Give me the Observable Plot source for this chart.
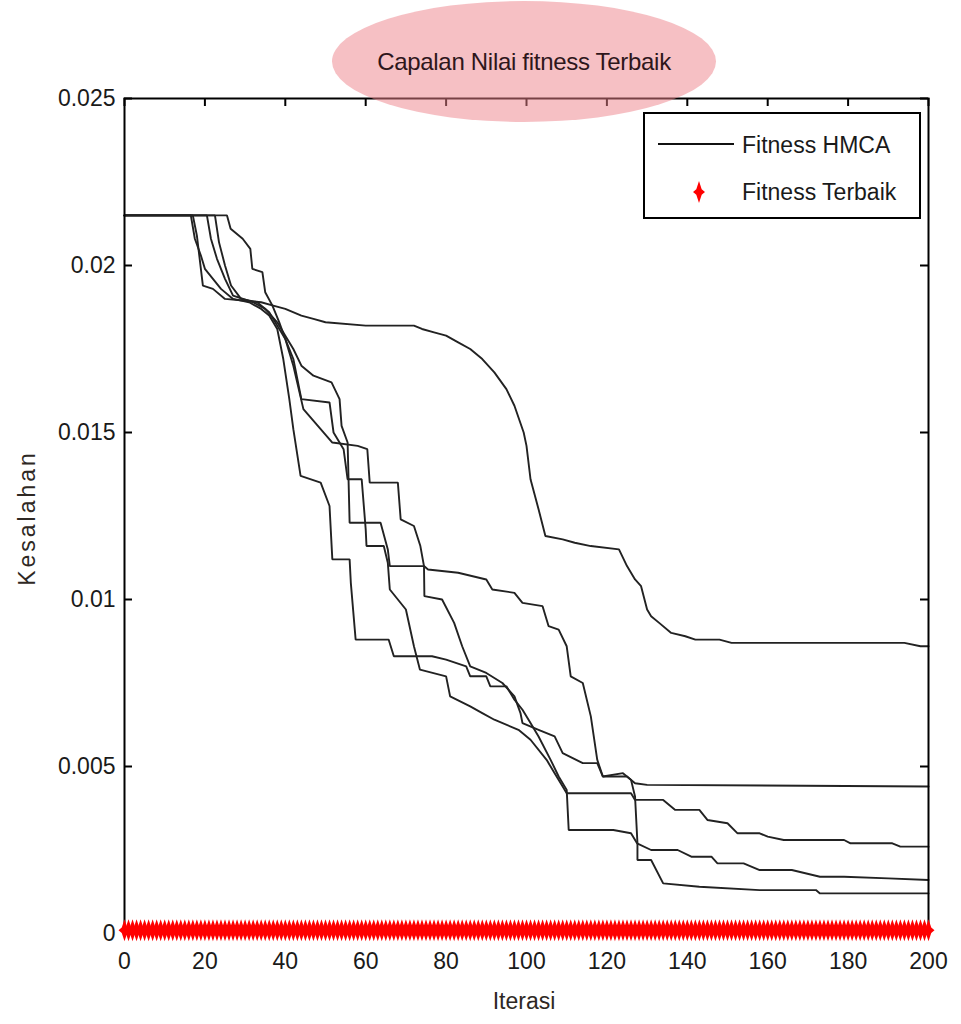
<!DOCTYPE html>
<html>
<head>
<meta charset="utf-8">
<script src="https://cdn.jsdelivr.net/npm/d3@7"></script>
<script src="https://cdn.jsdelivr.net/npm/@observablehq/plot@0.6"></script>
<style>
  html, body { margin: 0; padding: 0; background: #fff; }
  #wrap { position: relative; width: 961px; height: 1024px; font-family: "Liberation Sans", Arial, sans-serif; }
  #title {
    position: absolute; left: 332px; top: 1px; width: 384px; height: 121px;
    border-radius: 50%; background: rgba(238,130,138,0.5);
    display: flex; align-items: center; justify-content: center;
    font-size: 24px; color: #2e161b; z-index: 3; letter-spacing: -0.3px;
  }
  #legend {
    position: absolute; left: 643px; top: 112px; width: 278px; height: 107px;
    box-sizing: border-box; border: 2px solid #000; background: #fff; z-index: 2;
    font-size: 23px; color: #1a1a1a;
  }
  .lg-text { position: absolute; left: 97px; line-height: 1; transform: translateY(-50%); white-space: nowrap; }
  .axis-label { position: absolute; font-size: 23px; color: #2e2824; white-space: nowrap; z-index: 2; }
</style>
</head>
<body>
<div id="wrap">
  <div id="chart"></div>
  <div id="title">Capalan Nilai fitness Terbaik</div>
  <div id="legend">
    <div style="position:absolute;left:13px;top:29px;width:76px;height:2px;background:#111;"></div>
    <div class="lg-text" style="top:31px;">Fitness HMCA</div>
    <svg style="position:absolute;left:42px;top:65px;" width="24" height="26" viewBox="-12 -13 24 26">
      <path d="M0,-11L2.7,-2.7L6,0L2.7,2.7L0,11L-2.7,2.7L-6,0L-2.7,-2.7Z" fill="#ff0000"/>
    </svg>
    <div class="lg-text" style="top:78px;">Fitness Terbaik</div>
  </div>
  <div class="axis-label" id="xlabel" style="left:524px;top:1001px;transform:translate(-50%,-50%);">Iterasi</div>
  <div class="axis-label" id="ylabel" style="left:27px;top:518px;transform:translate(-50%,-50%) rotate(-90deg);letter-spacing:3px;">Kesalahan</div>
</div>
<script>
// ---- axis ticks ----
const xTicks = [0, 20, 40, 60, 80, 100, 120, 140, 160, 180, 200];
const xTickLabels = ["0", "20", "40", "60", "80", "100", "120", "140", "160", "180", "200"];
const yTicks = [0, 0.005, 0.01, 0.015, 0.02, 0.025];
const yTickLabels = ["0", "0.005", "0.01", "0.015", "0.02", "0.025"];

// ---- HMCA fitness runs: [iterasi, kesalahan] ----
const runA = [[0,0.0215],[17,0.0215],[18,0.0209],[19.5,0.0194],[22,0.0193],[25,0.0190],[34,0.0189],[37,0.0188],[40,0.0187],[44,0.0185],[47,0.0184],[50,0.0183],[60,0.0182],[72,0.0182],[74,0.0181],[77,0.0180],[80,0.0179],[83,0.0177],[86,0.0175],[89,0.0172],[92,0.0168],[95,0.0163],[97,0.0158],[99.3,0.0150],[100,0.0146],[101,0.0136],[103,0.0127],[104.7,0.0119],[109,0.0118],[112,0.0117],[116,0.0116],[123,0.0115],[125,0.0110],[127,0.0106],[128.5,0.0104],[130,0.0097],[131,0.0095],[133,0.0093],[136,0.0090],[139.5,0.0089],[142,0.0088],[148,0.0088],[151,0.0087],[194,0.0087],[198,0.0086],[200,0.0086]];
const runB = [[0,0.0215],[16.5,0.0215],[17.5,0.0208],[19,0.0203],[20,0.0199],[22,0.0196],[24,0.0193],[27,0.0190],[31,0.0189],[34,0.0187],[36,0.0185],[38,0.0181],[39.5,0.0172],[41,0.0160],[42,0.0151],[43.8,0.0137],[48.8,0.0135],[51,0.0128],[51.7,0.0112],[56,0.0112],[56.3,0.0105],[57.5,0.0088],[65.7,0.0088],[67,0.0083],[76.5,0.0083],[80,0.0082],[85,0.0080],[86,0.0077],[90,0.0077],[91,0.0074],[95,0.0074],[97,0.0070],[99,0.0067],[101,0.0063],[103,0.0059],[106,0.0052],[108,0.0047],[110,0.0043],[110.5,0.0031],[121.6,0.0031],[126,0.0030],[127.5,0.0027],[131,0.0025],[137.6,0.0025],[141,0.0023],[146,0.0023],[147.5,0.0021],[154,0.0021],[158,0.0019],[166,0.0019],[173,0.0017],[179,0.0017],[190,0.00165],[200,0.0016]];
const runC = [[0,0.0215],[20.5,0.0215],[21.5,0.0208],[23,0.0202],[25,0.0196],[27,0.0191],[32,0.0189],[35,0.0187],[38,0.0183],[40,0.0179],[42,0.0175],[44,0.0170],[47,0.0167],[51.5,0.0165],[53.5,0.0160],[54,0.0152],[55.5,0.0147],[56,0.0123],[63.7,0.0123],[65.5,0.0115],[66,0.0110],[74.5,0.0110],[75.5,0.0109],[83,0.0108],[90,0.0106],[91.5,0.0103],[97,0.0102],[99,0.0099],[104,0.0098],[105.5,0.0092],[108,0.0091],[110,0.0086],[111,0.0077],[114,0.0075],[116,0.0065],[117.6,0.0052],[119,0.0047],[125,0.0047],[127,0.0045],[130,0.00445],[200,0.0044]];
const runD = [[0,0.0215],[22.5,0.0215],[23.5,0.0207],[25,0.0200],[26.5,0.0194],[29,0.0190],[33,0.0189],[36,0.0186],[38,0.0182],[40,0.0178],[42,0.0172],[44,0.0160],[51,0.0159],[52,0.0150],[54.5,0.0145],[55.5,0.0136],[59,0.0136],[60,0.0121],[60.2,0.0116],[64.5,0.0116],[65.5,0.0111],[66,0.0103],[70,0.0097],[72,0.0086],[73.5,0.0079],[80,0.0077],[81,0.0071],[86,0.0068],[89,0.0066],[92,0.0064],[98,0.0061],[101,0.0058],[105,0.0052],[107,0.0048],[109,0.0044],[110,0.0042],[126,0.0042],[127,0.0040],[134,0.0040],[137,0.0037],[143,0.0037],[145,0.0034],[150,0.0033],[152.5,0.0030],[158,0.0030],[160,0.0029],[164,0.0028],[179,0.0028],[180.6,0.0027],[191,0.0027],[193,0.0026],[200,0.0026]];
const runE = [[0,0.0215],[25.5,0.0215],[26.4,0.0211],[29.4,0.0208],[31.3,0.0205],[31.8,0.0199],[34.3,0.0198],[35,0.0192],[36.8,0.0188],[38.5,0.0183],[40,0.0178],[42,0.0170],[44.5,0.0157],[51.7,0.0147],[58,0.0146],[60.4,0.0145],[61,0.0135],[68,0.0135],[68.7,0.0124],[72,0.0122],[73.6,0.0116],[74.5,0.0110],[74.6,0.0101],[79,0.0100],[82,0.0093],[84,0.0086],[86,0.0080],[90,0.0078],[94,0.0075],[97,0.0071],[98.5,0.0066],[99,0.0063],[103,0.0061],[107,0.0059],[109,0.0054],[114,0.0051],[117.6,0.0051],[119,0.0047],[124,0.0048],[126,0.0046],[127,0.0041],[127.6,0.0027],[127.6,0.0022],[131,0.0022],[134,0.0015],[143,0.0014],[158,0.0013],[172,0.0013],[173,0.0012],[200,0.0012]];

// ---- best fitness (red markers) ----
const bestIterations = d3.range(0, 201);   // a marker at every iteration 0..200
const bestFitness = 0.0001;

const runNames = ["A", "B", "C", "D", "E"];
const runArrays = [runA, runB, runC, runD, runE];
const lineData = runArrays.flatMap((run, k) => run.map(([it, v]) => ({run: runNames[k], iter: it, value: v})));

// elongated 4-point star marker
const star4 = {
  draw(ctx, size) {
    const r = Math.sqrt(size / Math.PI);
    const h = r * 2.2, w = r * 1.2, c = r * 0.55;
    ctx.moveTo(0, -h); ctx.lineTo(c, -c); ctx.lineTo(w, 0); ctx.lineTo(c, c);
    ctx.lineTo(0, h); ctx.lineTo(-c, c); ctx.lineTo(-w, 0); ctx.lineTo(-c, -c); ctx.closePath();
  }
};

const W = 961, H = 1024, mL = 124, mR = 33, mT = 98, mB = 91;
const frameW = W - mL - mR, frameH = H - mT - mB, tickLen = 8;

const chart = Plot.plot({
  width: W, height: H,
  marginLeft: mL, marginRight: mR, marginTop: mT, marginBottom: mB,
  style: {fontFamily: "Liberation Sans, Arial, sans-serif", fontSize: "23px", color: "#1a1a1a", background: "#fff"},
  x: {domain: [0, 200]},
  y: {domain: [0, 0.025]},
  marks: [
    Plot.line(lineData, {x: "iter", y: "value", z: "run", stroke: "#222", strokeWidth: 1.9, strokeLinejoin: "miter"}),
    Plot.frame({stroke: "#000", strokeWidth: 2}),
    Plot.tickX(xTicks, {x: d => d, insetTop: frameH - tickLen, stroke: "#000", strokeWidth: 2}),
    Plot.tickX(xTicks, {x: d => d, insetBottom: frameH - tickLen, stroke: "#000", strokeWidth: 2}),
    Plot.tickY(yTicks, {y: d => d, insetRight: frameW - tickLen, stroke: "#000", strokeWidth: 2}),
    Plot.tickY(yTicks, {y: d => d, insetLeft: frameW - tickLen, stroke: "#000", strokeWidth: 2}),
    Plot.axisX(xTicks, {anchor: "bottom", tickSize: 0, tickPadding: 19, label: null,
      tickFormat: d => xTickLabels[xTicks.indexOf(d)]}),
    Plot.axisY(yTicks, {anchor: "left", tickSize: 0, tickPadding: 9, label: null,
      tickFormat: d => yTickLabels[yTicks.indexOf(d)]}),
    Plot.dot(bestIterations, {x: d => d, y: () => bestFitness, symbol: star4, r: 5, fill: "#ff0000", stroke: "none"})
  ]
});
document.getElementById("chart").appendChild(chart);
</script>
</body>
</html>
